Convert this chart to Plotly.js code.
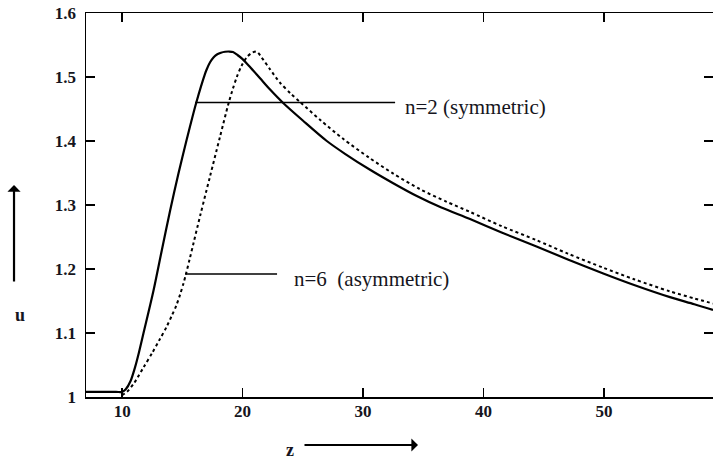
<!DOCTYPE html>
<html>
<head>
<meta charset="utf-8">
<script src="https://cdn.plot.ly/plotly-3.0.1.min.js"></script>
<style>html,body{margin:0;padding:0;background:#fff;}#chart{width:713px;height:462px;}</style>
</head>
<body>
<div id="chart"></div>
<script>
// n=2 (symmetric) — solid curve
const zSym = [7.0, 9.5, 10.0, 10.3, 10.7, 11.08, 11.4, 11.77, 12.6, 13.29, 13.98, 14.67, 15.37, 16.14, 16.9, 17.0, 17.3, 17.6, 17.9, 18.2, 18.55, 18.9, 19.2, 19.6, 20.0, 20.6, 21.45, 22.3, 23.39, 25, 26.99, 28.5, 30.58, 32.5, 34.46, 36.5, 38.88, 41.5, 44.4, 47, 49.94, 52.5, 55.48, 57.5, 59.05];
const uSym = [1.008, 1.008, 1.008, 1.012, 1.025, 1.047, 1.070, 1.0995, 1.166, 1.229, 1.291, 1.349, 1.403, 1.459, 1.506, 1.511, 1.523, 1.531, 1.5355, 1.538, 1.5395, 1.5398, 1.539, 1.534, 1.528, 1.516, 1.498, 1.48, 1.459, 1.432, 1.40, 1.380, 1.355, 1.334, 1.314, 1.296, 1.278, 1.257, 1.235, 1.215, 1.193, 1.175, 1.156, 1.145, 1.136];

// n=6 (asymmetric) — dotted curve
const zAsym = [10.0, 10.4, 11.0, 11.77, 12.5, 13.15, 13.7, 14.12, 14.5, 14.81, 15.1, 15.31, 15.6, 15.92, 16.5, 17.3, 18.13, 18.82, 19.2, 19.52, 19.9, 20.35, 20.8, 21.18, 21.6, 22.28, 23.11, 24.0, 24.77, 26.5, 28.37, 30.5, 32.51, 34.7, 36.94, 38.9, 41.5, 44.4, 47, 49.94, 52.5, 55.48, 57.5, 59.05];
const uAsym = [1.003, 1.008, 1.022, 1.046, 1.069, 1.091, 1.110, 1.127, 1.143, 1.160, 1.178, 1.193, 1.215, 1.240, 1.285, 1.345, 1.407, 1.458, 1.482, 1.500, 1.517, 1.531, 1.538, 1.5395, 1.530, 1.512, 1.491, 1.474, 1.461, 1.432, 1.403, 1.374, 1.349, 1.325, 1.305, 1.289, 1.267, 1.245, 1.224, 1.202, 1.184, 1.165, 1.154, 1.146];

// leader lines for the curve labels
const leaderSymZ = [16.06, 32.66];
const leaderSymU = [1.46, 1.46];
const leaderAsymZ = [15.23, 22.86];
const leaderAsymU = [1.192, 1.192];

// labels and where they sit
const labelSym = "n=2 (symmetric)";
const labelAsym = "n=6&nbsp;&nbsp;(asymmetric)";
const labelSymPos = [33.3, 1.453];
const labelAsymPos = [24.11, 1.184];

// ticks
const xTickVals = [10, 20, 30, 40, 50];
const xTickText = ["10", "20", "30", "40", "50"];
const yTickVals = [1, 1.1, 1.2, 1.3, 1.4, 1.5, 1.6];
const yTickText = ["1", "1.1", "1.2", "1.3", "1.4", "1.5", "1.6"];

const ink = "#151520";
const serif = "Liberation Serif, Times New Roman, Times, serif";

const traces = [
  {x: zSym, y: uSym, mode: "lines", line: {color: "#000", width: 2.2, shape: "spline", smoothing: 0.8}, showlegend: false, hoverinfo: "skip"},
  {x: zAsym, y: uAsym, mode: "lines", line: {color: "#000", width: 2, dash: "dot", shape: "spline", smoothing: 0.8}, showlegend: false, hoverinfo: "skip"},
  {x: leaderSymZ, y: leaderSymU, mode: "lines", line: {color: "#000", width: 1.5}, showlegend: false, hoverinfo: "skip"},
  {x: leaderAsymZ, y: leaderAsymU, mode: "lines", line: {color: "#000", width: 1.5}, showlegend: false, hoverinfo: "skip"}
];

const axisCommon = {
  showline: true, linecolor: "#000", linewidth: 1.5, mirror: "ticks",
  ticks: "inside", ticklen: 9, tickwidth: 1.5, tickcolor: "#000",
  showgrid: false, zeroline: false, tickmode: "array",
  tickfont: {family: serif, size: 17, color: ink, weight: "bold"}
};

const layout = {
  width: 713, height: 462,
  margin: {l: 86, r: 0, t: 13, b: 65},
  paper_bgcolor: "#fff", plot_bgcolor: "#fff",
  font: {family: serif},
  xaxis: Object.assign({}, axisCommon, {range: [7, 59.05], tickvals: xTickVals, ticktext: xTickText, ticklabelstandoff: -2}),
  yaxis: Object.assign({}, axisCommon, {range: [1, 1.6], tickvals: yTickVals, ticktext: yTickText, ticklabelstandoff: 5}),
  annotations: [
    {x: labelSymPos[0], y: labelSymPos[1], xref: "x", yref: "y", text: labelSym, showarrow: false, xanchor: "left", yanchor: "middle", font: {family: serif, size: 21, color: ink}},
    {x: labelAsymPos[0], y: labelAsymPos[1], xref: "x", yref: "y", text: labelAsym, showarrow: false, xanchor: "left", yanchor: "middle", font: {family: serif, size: 21, color: ink}},
    {x: -0.1053, y: 0.2135, xref: "paper", yref: "paper", text: "<b>u</b>", showarrow: false, xanchor: "center", yanchor: "middle", font: {family: serif, size: 18, color: ink}},
    {x: 0.3253, y: -0.138, xref: "paper", yref: "paper", text: "<b>z</b>", showarrow: false, xanchor: "center", yanchor: "middle", font: {family: serif, size: 18, color: ink}},
    {x: -0.1148, y: 0.552, xref: "paper", yref: "paper", text: "", showarrow: true, ax: 0, ay: 98, arrowhead: 1, arrowsize: 1, arrowwidth: 2.2, arrowcolor: "#000"},
    {x: 0.5295, y: -0.125, xref: "paper", yref: "paper", text: "", showarrow: true, ax: -115, ay: 0, arrowhead: 1, arrowsize: 1, arrowwidth: 2.2, arrowcolor: "#000"}
  ]
};

Plotly.newPlot("chart", traces, layout, {displayModeBar: false, staticPlot: true});
</script>
</body>
</html>
